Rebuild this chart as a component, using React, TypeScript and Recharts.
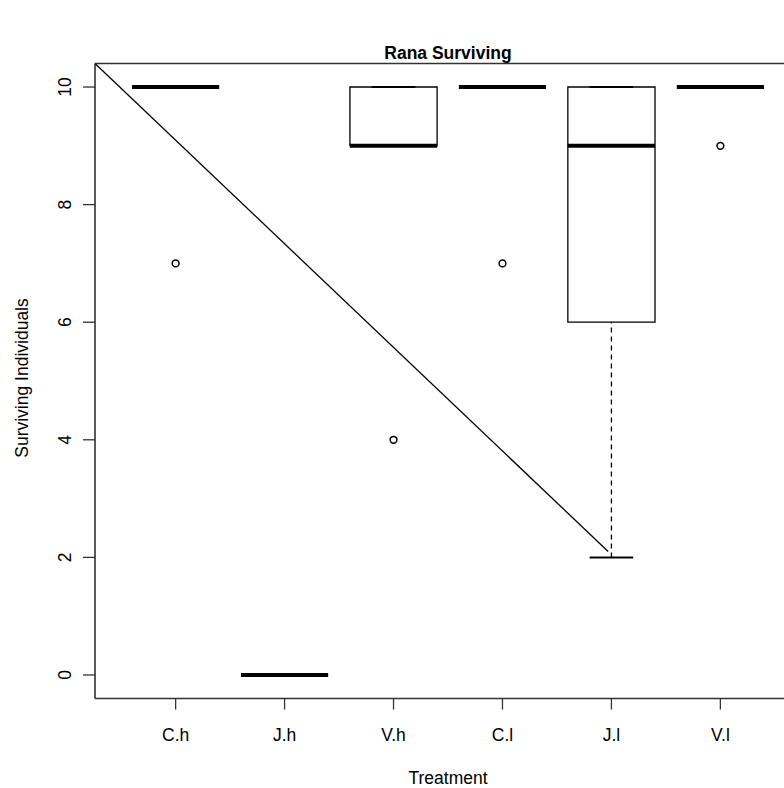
import React from "react";
import {
    ComposedChart,
    XAxis,
    YAxis,
    Scatter,
    ReferenceArea,
    ReferenceLine,
} from "recharts";

// boxplot stats per treatment
const categories = ["C.h", "J.h", "V.h", "C.l", "J.l", "V.l"];
const lowerWhisker = [10, 0, 9, 10, 2, 10];
const lowerHinge = [10, 0, 9, 10, 6, 10];
const medians = [10, 0, 9, 10, 9, 10];
const upperHinge = [10, 0, 10, 10, 10, 10];
const upperWhisker = [10, 0, 10, 10, 10, 10];
const outliers = [[7], [], [4], [7], [], [9]];
const yTicks = [0, 2, 4, 6, 8, 10];
const xTicks = [1, 2, 3, 4, 5, 6];
// the straight line drawn across the plot
const trendLine = [
    { x: 0.26, y: 10.4 },
    { x: 4.97, y: 2.1 },
];

const outlierPoints = outliers.flatMap((vals, i) => vals.map((v) => ({ x: i + 1, y: v })));

const FONT = "'Liberation Sans', Arial, sans-serif";
const INK = "#000000";

function XTick({ x, y, payload }: any) {
    return (
        <text x={x} y={y + 29} textAnchor="middle" fontFamily={FONT} fontSize={17.5} fill={INK}>
            {categories[payload.value - 1]}
        </text>
    );
}

function YTick({ x, y, payload }: any) {
    const cx = x - 16;
    return (
        <text
            x={cx}
            y={y}
            textAnchor="middle"
            dominantBaseline="central"
            transform={`rotate(-90 ${cx} ${y})`}
            fontFamily={FONT}
            fontSize={17.5}
            fill={INK}
        >
            {payload.value}
        </text>
    );
}

function YLabel({ viewBox }: any) {
    const cx = 22;
    const cy = viewBox.y + viewBox.height / 2 - 3;
    return (
        <text
            x={cx}
            y={cy}
            textAnchor="middle"
            dominantBaseline="central"
            transform={`rotate(-90 ${cx} ${cy})`}
            fontFamily={FONT}
            fontSize={17.5}
            fill={INK}
        >
            Surviving Individuals
        </text>
    );
}

function TitleLabel({ viewBox }: any) {
    return (
        <text
            x={viewBox.x + viewBox.width / 2}
            y={59}
            textAnchor="middle"
            fontFamily={FONT}
            fontSize={17.5}
            fontWeight="bold"
            fill={INK}
        >
            Rana Surviving
        </text>
    );
}

function XLabel({ viewBox }: any) {
    return (
        <text
            x={viewBox.x + viewBox.width / 2}
            y={784}
            textAnchor="middle"
            fontFamily={FONT}
            fontSize={17.5}
            fill={INK}
        >
            Treatment
        </text>
    );
}

function OpenCircle({ cx, cy }: any) {
    return <circle cx={cx} cy={cy} r={3.4} fill="#fff" stroke={INK} strokeWidth={1.5} />;
}

export default function App() {
    return (
        <div
            style={{
                position: "absolute",
                left: 0,
                top: 0,
                width: 784,
                height: 788,
                overflow: "hidden",
                background: "#fff",
            }}
        >
            <ComposedChart
                width={812}
                height={788}
                margin={{ top: 0, right: 11, bottom: 0, left: 0 }}
                data={outlierPoints}
            >
                <XAxis
                    xAxisId="top"
                    orientation="top"
                    type="number"
                    dataKey="x"
                    domain={[0.26, 6.74]}
                    allowDataOverflow
                    height={63.5}
                    tick={false}
                    tickLine={false}
                    axisLine={{ stroke: "#333", strokeWidth: 1.5 }}
                    label={{ content: TitleLabel }}
                />
                <XAxis
                    type="number"
                    dataKey="x"
                    domain={[0.26, 6.74]}
                    allowDataOverflow
                    ticks={xTicks}
                    interval={0}
                    height={89.5}
                    tickSize={11}
                    tick={XTick}
                    tickLine={{ stroke: "#333", strokeWidth: 1.3 }}
                    axisLine={{ stroke: "#333", strokeWidth: 1.5 }}
                    label={{ content: XLabel }}
                />
                <YAxis
                    type="number"
                    dataKey="y"
                    domain={[-0.4, 10.4]}
                    allowDataOverflow
                    ticks={yTicks}
                    width={95}
                    tickSize={12}
                    tick={YTick}
                    tickLine={{ stroke: "#333", strokeWidth: 1.3 }}
                    axisLine={{ stroke: "#222", strokeWidth: 1.5 }}
                    label={{ content: YLabel }}
                />

                {categories.map((c, i) => (
                    <ReferenceArea
                        key={`box-${c}`}
                        x1={i + 1 - 0.4}
                        x2={i + 1 + 0.4}
                        y1={lowerHinge[i]}
                        y2={upperHinge[i]}
                        fill="#fff"
                        fillOpacity={1}
                        stroke={INK}
                        strokeWidth={1.3}
                        ifOverflow="visible"
                    />
                ))}
                {categories.map((c, i) => (
                    <ReferenceLine
                        key={`wl-${c}`}
                        segment={[
                            { x: i + 1, y: lowerWhisker[i] },
                            { x: i + 1, y: lowerHinge[i] },
                        ]}
                        stroke={INK}
                        strokeWidth={1.3}
                        strokeDasharray="5 4"
                        ifOverflow="visible"
                    />
                ))}
                {categories.map((c, i) => (
                    <ReferenceLine
                        key={`wu-${c}`}
                        segment={[
                            { x: i + 1, y: upperHinge[i] },
                            { x: i + 1, y: upperWhisker[i] },
                        ]}
                        stroke={INK}
                        strokeWidth={1.3}
                        strokeDasharray="5 4"
                        ifOverflow="visible"
                    />
                ))}
                {categories.map((c, i) => (
                    <ReferenceLine
                        key={`sl-${c}`}
                        segment={[
                            { x: i + 1 - 0.2, y: lowerWhisker[i] },
                            { x: i + 1 + 0.2, y: lowerWhisker[i] },
                        ]}
                        stroke={INK}
                        strokeWidth={2}
                        ifOverflow="visible"
                    />
                ))}
                {categories.map((c, i) => (
                    <ReferenceLine
                        key={`su-${c}`}
                        segment={[
                            { x: i + 1 - 0.2, y: upperWhisker[i] },
                            { x: i + 1 + 0.2, y: upperWhisker[i] },
                        ]}
                        stroke={INK}
                        strokeWidth={2}
                        ifOverflow="visible"
                    />
                ))}
                {categories.map((c, i) => (
                    <ReferenceLine
                        key={`md-${c}`}
                        segment={[
                            { x: i + 1 - 0.4, y: medians[i] },
                            { x: i + 1 + 0.4, y: medians[i] },
                        ]}
                        stroke={INK}
                        strokeWidth={4}
                        ifOverflow="visible"
                    />
                ))}
                <ReferenceLine
                    segment={trendLine}
                    stroke={INK}
                    strokeWidth={1.3}
                    ifOverflow="visible"
                />
                <Scatter
                    data={outlierPoints}
                    dataKey="y"
                    shape={OpenCircle}
                    isAnimationActive={false}
                />
            </ComposedChart>
        </div>
    );
}
